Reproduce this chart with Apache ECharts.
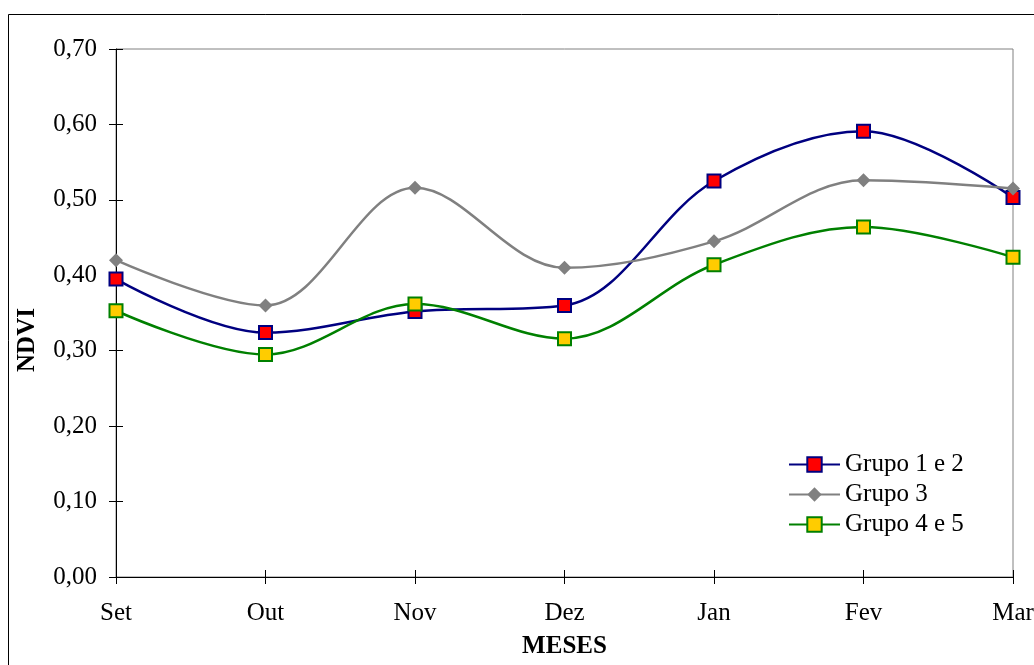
<!DOCTYPE html>
<html>
<head>
<meta charset="utf-8">
<script src="https://cdn.jsdelivr.net/npm/echarts@6/dist/echarts.min.js"></script>
<style>
  html, body { margin: 0; padding: 0; background: #fff; }
  #chart { width: 1034px; height: 665px; }
</style>
</head>
<body>
<div id="chart"></div>
<script>
const meses = ['Set', 'Out', 'Nov', 'Dez', 'Jan', 'Fev', 'Mar']
const grupo12 = [0.395, 0.324, 0.352, 0.360, 0.525, 0.591, 0.503]
const grupo3 = [0.420, 0.360, 0.516, 0.410, 0.445, 0.526, 0.515]
const grupo45 = [0.353, 0.295, 0.362, 0.316, 0.414, 0.464, 0.424]

const font = 'Liberation Serif'
const chart = echarts.init(document.getElementById('chart'))

const fmt = v => v.toFixed(2).replace('.', ',')

const option = {
  backgroundColor: '#fff',
  animation: false,
  textStyle: { fontFamily: font },
  graphic: [{
    type: 'rect',
    shape: { x: 8.5, y: 14.5, width: 1040, height: 680 },
    style: { fill: 'none', stroke: '#000', lineWidth: 1 },
    z: -1
  }, {
    // y axis title sits a bit below the plot centre in the original
    type: 'text',
    x: 28, y: 340,
    rotation: Math.PI / 2,
    style: {
      text: 'NDVI', fill: '#000',
      font: 'bold 25px "Liberation Serif"',
      align: 'center', verticalAlign: 'middle'
    }
  }],
  grid: {
    left: 116, right: 21, top: 49, bottom: 88,
    outerBoundsMode: 'none',
    show: true, borderColor: '#808080', borderWidth: 1
  },
  legend: {
    orient: 'vertical',
    left: 783, top: 447,
    itemWidth: 51, itemHeight: 18, itemGap: 5,
    textStyle: { fontFamily: font, fontSize: 25, color: '#000' },
    data: ['Grupo 1 e 2', 'Grupo 3', 'Grupo 4 e 5']
  },
  xAxis: [{
    type: 'category',
    data: meses,
    boundaryGap: false,
    name: 'MESES',
    nameLocation: 'middle',
    nameGap: 57,
    nameTextStyle: { fontFamily: font, fontSize: 25, fontWeight: 'bold', color: '#000' },
    axisLine: { lineStyle: { color: '#000', width: 1 } },
    axisTick: { show: true, length: 7, lineStyle: { color: '#000' } },
    axisLabel: { fontFamily: font, fontSize: 25, color: '#000', margin: 24 },
    splitLine: { show: false }
  }, {
    type: 'category',
    data: meses,
    boundaryGap: false,
    position: 'bottom',
    axisLine: { show: false },
    axisTick: { show: true, inside: true, length: 7, lineStyle: { color: '#000' } },
    axisLabel: { show: false },
    splitLine: { show: false }
  }],
  yAxis: [{
    type: 'value',
    min: 0, max: 0.7, interval: 0.1,
    axisLine: { show: true, lineStyle: { color: '#000', width: 1 } },
    axisTick: { show: true, length: 7, lineStyle: { color: '#000' } },
    axisLabel: { fontFamily: font, fontSize: 25, color: '#000', margin: 19, formatter: fmt },
    splitLine: { show: false }
  }, {
    type: 'value',
    min: 0, max: 0.7, interval: 0.1,
    position: 'left',
    axisLine: { show: false },
    axisTick: { show: true, inside: true, length: 7, lineStyle: { color: '#000' } },
    axisLabel: { show: false },
    splitLine: { show: false }
  }],
  series: [{
    name: 'Grupo 1 e 2',
    type: 'line',
    data: grupo12,
    smooth: 0.35,
    symbol: 'rect',
    symbolSize: 13,
    lineStyle: { color: '#000080', width: 2.5 },
    itemStyle: { color: '#ff0000', borderColor: '#000080', borderWidth: 2 },
    z: 2
  }, {
    name: 'Grupo 3',
    type: 'line',
    data: grupo3,
    smooth: 0.35,
    symbol: 'diamond',
    symbolSize: [14, 14],
    lineStyle: { color: '#808080', width: 2.5 },
    itemStyle: { color: '#808080', borderWidth: 0 },
    z: 3
  }, {
    name: 'Grupo 4 e 5',
    type: 'line',
    data: grupo45,
    smooth: 0.35,
    symbol: 'rect',
    symbolSize: 13,
    lineStyle: { color: '#008000', width: 2.5 },
    itemStyle: { color: '#ffcc00', borderColor: '#008000', borderWidth: 2 },
    z: 4
  }]
}

chart.setOption(option)
</script>
</body>
</html>
